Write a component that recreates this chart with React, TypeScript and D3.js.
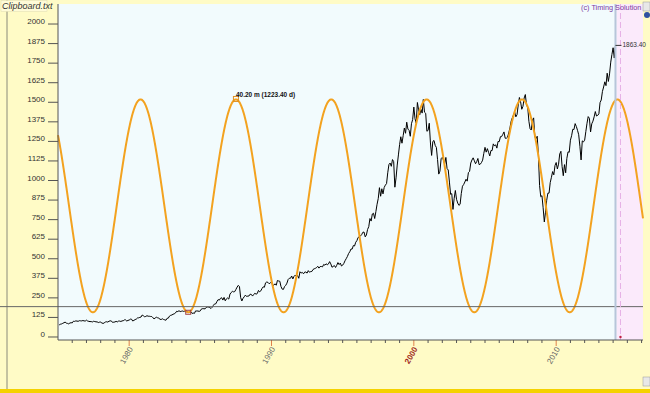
import React from 'react';
import * as d3 from 'd3';

const W = 650;
const H = 393;
const margin = { left: 58, right: 7, top: 4, bottom: 53 };

// S&P 500 monthly closes, Jan 1975 onwards
const startYear = 1975;
const spx = [
  76.98, 81.59, 83.36, 87.3, 91.15, 95.19, 88.75, 86.88, 83.87, 89.04, 91.24, 90.19,
  100.86, 99.71, 102.77, 101.64, 100.18, 104.28, 103.44, 102.91, 105.24, 102.9, 102.1, 107.46,
  102.03, 99.82, 98.42, 98.44, 96.12, 100.48, 98.85, 96.77, 96.53, 92.34, 94.83, 95.1,
  89.25, 87.04, 89.21, 96.83, 97.24, 95.53, 100.68, 103.29, 102.54, 93.15, 94.7, 96.11,
  99.93, 96.28, 101.59, 101.76, 99.08, 102.91, 103.81, 109.32, 109.32, 101.82, 106.16, 107.94,
  114.16, 113.66, 102.09, 106.29, 111.24, 114.24, 121.67, 122.38, 125.46, 127.47, 140.52, 135.76,
  129.55, 131.27, 136.0, 132.81, 132.59, 131.21, 130.92, 122.79, 116.18, 121.89, 126.35, 122.55,
  120.4, 113.11, 111.96, 116.44, 111.88, 109.61, 107.09, 119.51, 120.42, 133.71, 138.54, 140.64,
  145.3, 148.06, 152.96, 164.42, 162.39, 168.11, 162.56, 164.4, 166.07, 163.55, 166.4, 164.93,
  163.41, 157.06, 159.18, 160.05, 150.55, 153.18, 150.66, 166.68, 166.1, 166.09, 163.58, 167.24,
  179.63, 181.18, 180.66, 179.83, 189.55, 191.85, 190.92, 188.63, 182.08, 189.82, 202.17, 211.28,
  211.78, 226.92, 238.9, 235.52, 247.35, 250.84, 236.12, 252.93, 231.32, 243.98, 249.22, 242.17,
  274.08, 284.2, 291.7, 288.36, 290.1, 304.0, 318.66, 329.8, 321.83, 251.79, 230.3, 247.08,
  257.07, 267.82, 258.89, 261.33, 262.16, 273.5, 272.02, 261.52, 271.91, 278.97, 273.7, 277.72,
  297.47, 288.86, 294.87, 309.64, 320.52, 317.98, 346.08, 351.45, 349.15, 340.36, 345.99, 353.4,
  329.08, 331.89, 339.94, 330.8, 361.23, 358.02, 356.15, 322.56, 306.05, 304.0, 322.22, 330.22,
  343.93, 367.07, 375.22, 375.35, 389.83, 371.16, 387.81, 395.43, 387.86, 392.46, 375.22, 417.09,
  408.79, 412.7, 403.69, 414.95, 415.35, 408.14, 424.21, 414.03, 417.8, 418.68, 431.35, 435.71,
  438.78, 443.38, 451.67, 440.19, 450.19, 450.53, 448.13, 463.56, 458.93, 467.83, 461.79, 466.45,
  481.61, 467.14, 445.77, 450.91, 456.5, 444.27, 458.26, 475.49, 462.69, 472.35, 453.69, 459.27,
  470.42, 487.39, 500.71, 514.71, 533.4, 544.75, 562.06, 561.88, 584.41, 581.5, 605.37, 615.93,
  636.02, 640.43, 645.5, 654.17, 669.12, 670.63, 639.95, 651.99, 687.31, 705.27, 757.02, 740.74,
  786.16, 790.82, 757.12, 801.34, 848.28, 885.14, 954.29, 899.47, 947.28, 914.62, 955.4, 970.43,
  980.28, 1049.34, 1101.75, 1111.75, 1090.82, 1133.84, 1120.67, 957.28, 1017.01, 1098.67, 1163.63, 1229.23,
  1279.64, 1238.33, 1286.37, 1335.18, 1301.84, 1372.71, 1328.72, 1320.41, 1282.71, 1362.93, 1388.91, 1469.25,
  1394.46, 1366.42, 1498.58, 1452.43, 1420.6, 1454.6, 1430.83, 1517.68, 1436.51, 1429.4, 1314.95, 1320.28,
  1366.01, 1239.94, 1160.33, 1249.46, 1255.82, 1224.38, 1211.23, 1133.58, 1040.94, 1059.78, 1139.45, 1148.08,
  1130.2, 1106.73, 1147.39, 1076.92, 1067.14, 989.82, 911.62, 916.07, 815.28, 885.76, 936.31, 879.82,
  855.7, 841.15, 848.18, 916.92, 963.59, 974.5, 990.31, 1008.01, 995.97, 1050.71, 1058.2, 1111.92,
  1131.13, 1144.94, 1126.21, 1107.3, 1120.68, 1140.84, 1101.72, 1104.24, 1114.58, 1130.2, 1173.82, 1211.92,
  1181.27, 1203.6, 1180.59, 1156.85, 1191.5, 1191.33, 1234.18, 1220.33, 1228.81, 1207.01, 1249.48, 1248.29,
  1280.08, 1280.66, 1294.83, 1310.61, 1270.09, 1270.2, 1276.66, 1303.82, 1335.85, 1377.94, 1400.63, 1418.3,
  1438.24, 1406.82, 1420.86, 1482.37, 1530.62, 1503.35, 1455.27, 1473.99, 1526.75, 1549.38, 1481.14, 1468.36,
  1378.55, 1330.63, 1322.7, 1385.59, 1400.38, 1280.0, 1267.38, 1282.83, 1166.36, 968.75, 896.24, 903.25,
  825.88, 735.09, 797.87, 872.81, 919.14, 919.32, 987.48, 1020.62, 1057.08, 1036.19, 1095.63, 1115.1,
  1073.87, 1104.49, 1169.43, 1186.69, 1089.41, 1030.71, 1101.6, 1049.33, 1141.2, 1183.26, 1180.55, 1257.64,
  1286.12, 1327.22, 1325.83, 1363.61, 1345.2, 1320.64, 1292.28, 1218.89, 1131.42, 1253.3, 1246.96, 1257.6,
  1312.41, 1365.68, 1408.47, 1397.91, 1310.33, 1362.16, 1379.32, 1406.58, 1440.67, 1412.16, 1416.18, 1426.19,
  1498.11, 1514.68, 1569.19, 1597.57, 1630.74, 1606.28, 1685.73, 1632.97, 1681.55, 1756.54, 1805.81, 1848.36,
  1782.59, 1863.4,
];

const yTicks = [0, 125, 250, 375, 500, 625, 750, 875, 1000, 1125, 1250, 1375, 1500, 1625, 1750, 1875, 2000];
const decadeLabels = [1980, 1990, 2000, 2010];
const boldLabel = 2000;

// projected cycle (half period = 40.20 months)
const cycleMonths = 40.2;
const cyclePeakYear = 2000.9;
const cycleMid = 838;
const cycleAmp = 680;
const cursorValue = 194;
const lastLabel = '1863.40';

const x = d3.scaleLinear().domain([1975, 2016.1]).range([margin.left, W - margin.right]);
const y = d3.scaleLinear().domain([-19.2, 2128]).range([H - margin.bottom, margin.top]);

const priceData = spx.map((v, i) => ({ t: startYear + (i + 1) / 12, v }));
const lastPt = priceData[priceData.length - 1];

const period = (cycleMonths * 2) / 12;
const cycle = (t: number) => cycleMid + cycleAmp * Math.cos((2 * Math.PI * (t - cyclePeakYear)) / period);
const cycleData = d3.range(x.domain()[0], x.domain()[1] + 0.01, 0.02).map((t) => ({ t, v: cycle(t) }));

const line = d3.line<{ t: number; v: number }>().x((d) => x(d.t)).y((d) => y(d.v));

const years = d3.range(1976, 2017).filter((yr) => x(yr) <= W - margin.right);
const peakT = cyclePeakYear - 2 * period;
const troughT = peakT - period / 2;

export default function App() {
  const plotBottom = H - margin.bottom;
  const nowX = x(lastPt.t);
  return (
    <svg width={W} height={H} style={{ position: 'absolute', left: 0, top: 0 }} fontFamily="Liberation Sans, Arial, sans-serif">
      <rect width={W} height={H} fill="#fffbc6" />
      <rect x={margin.left} y={margin.top} width={W - margin.left - margin.right} height={plotBottom - margin.top} fill="#f2fbfd" />
      <rect x={nowX + 1} y={margin.top} width={W - margin.right - nowX - 1} height={plotBottom - margin.top} fill="#fbeafb" />
      <line x1={7} x2={7} y1={0} y2={389} stroke="#8a8a7a" />
      <rect x={1} y={0.5} width={46} height={11} fill="#fffbd8" stroke="#e0dcb0" strokeWidth={0.5} />
      <text x={2} y={9} fontSize={9} fontStyle="italic" fill="#333">Clipboard.txt</text>

      {yTicks.map((v) => (
        <g key={v}>
          <line x1={48} x2={margin.left} y1={y(v)} y2={y(v)} stroke="#555" />
          <text x={45} y={y(v)} fontSize={8} textAnchor="end" fill="#333">{v}</text>
        </g>
      ))}

      {years.map((yr) => {
        const dec = decadeLabels.includes(yr);
        return (
          <line key={yr} x1={x(yr)} x2={x(yr)} y1={plotBottom} y2={plotBottom + (dec ? 6 : 3)} stroke={dec ? '#e0804a' : '#555'} />
        );
      })}
      {decadeLabels.map((yr) => (
        <text
          key={yr}
          transform={`translate(${x(yr) + 4},${plotBottom + 9}) rotate(-60)`}
          textAnchor="end"
          fontSize={8}
          fontWeight={yr === boldLabel ? 'bold' : 'normal'}
          fill={yr === boldLabel ? '#a0281a' : '#666'}
        >
          {yr}
        </text>
      ))}

      <path d={line(priceData) || ''} fill="none" stroke="#000" strokeWidth={1} />
      <path d={line(cycleData) || ''} fill="none" stroke="#f3a21f" strokeWidth={2} />

      <line x1={0} x2={W - margin.right} y1={y(cursorValue)} y2={y(cursorValue)} stroke="#666" />
      <rect x={nowX - 1} y={margin.top} width={2} height={plotBottom - margin.top} fill="#b7c6da" />
      <line x1={nowX + 5} x2={nowX + 5} y1={margin.top} y2={plotBottom} stroke="#e6b0e6" strokeDasharray="6,3" />
      <circle cx={nowX + 5} cy={plotBottom - 3} r={1.2} fill="#c02040" />

      <line x1={margin.left} x2={margin.left} y1={margin.top} y2={plotBottom} stroke="#555" />
      <line x1={margin.left} x2={W - margin.right} y1={plotBottom} y2={plotBottom} stroke="#555" />

      <rect x={x(peakT) - 2.5} y={y(cycle(peakT)) - 3} width={5} height={5} fill="none" stroke="#e09020" />
      <text x={x(peakT)} y={y(cycle(peakT)) - 2} fontSize={6.5} fontWeight="bold" fill="#111">40.20 m (1223.40 d)</text>
      <rect x={x(troughT) - 2.5} y={y(cycle(troughT)) - 2} width={5} height={4} fill="none" stroke="#a04040" />

      <line x1={nowX} x2={nowX + 6} y1={y(lastPt.v)} y2={y(lastPt.v)} stroke="#333" />
      <text x={nowX + 7} y={y(lastPt.v) + 2} fontSize={6.5} fill="#333">{lastLabel}</text>
      <text x={581} y={10} fontSize={7.3} fill="#7a3aa0">(c) Timing Solution</text>

      <rect x={643} y={2} width={7} height={9} fill="#e8e8e8" stroke="#999" strokeWidth={0.5} />
      <circle cx={647} cy={15} r={3} fill="#3050a0" />
      <rect x={643} y={377} width={7} height={9} fill="#e8e8e8" stroke="#999" strokeWidth={0.5} />
      <rect x={0} y={389} width={W} height={4} fill="#f5d200" />
    </svg>
  );
}
